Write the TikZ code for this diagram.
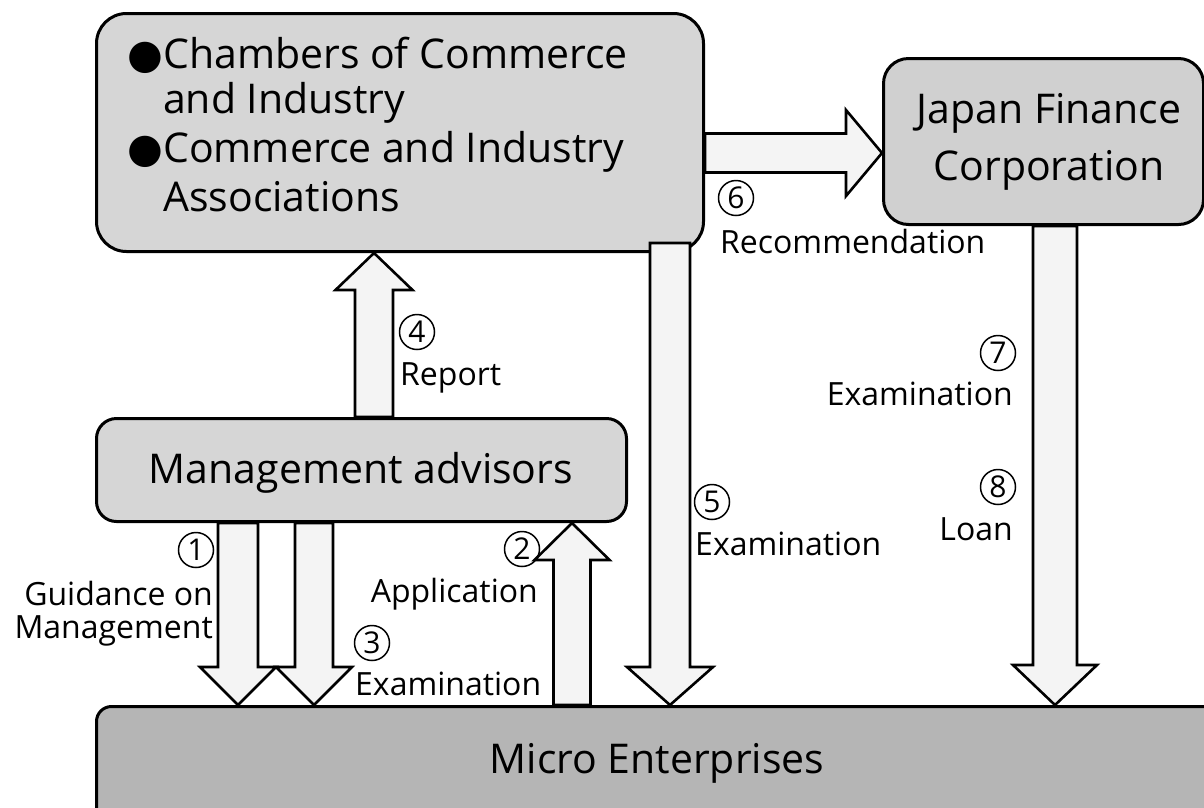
\documentclass[tikz,border=0pt]{standalone}
\usepackage{fontspec}
\setmainfont{Open Sans}
\newfontfamily\dv{DejaVu Sans}
\usetikzlibrary{calc}
\definecolor{boxfill}{HTML}{D6D6D6}
\definecolor{jfcfill}{HTML}{D0D0D0}
\definecolor{microfill}{HTML}{B5B5B5}
\definecolor{arrfill}{HTML}{F4F4F4}
\newcommand{\vblockdown}[5]{%
  \draw[blk] let \p1=(#1), \p2=(#2) in
    (\x2-#3pt,\y1) -- (\x2-#3pt,\y2+#5pt) -- (\x2-#4pt,\y2+#5pt) -- (\x2,\y2)
    -- (\x2+#4pt,\y2+#5pt) -- (\x2+#3pt,\y2+#5pt) -- (\x2+#3pt,\y1) -- cycle;}
\newcommand{\vblockup}[5]{%
  \draw[blk] let \p1=(#1), \p2=(#2) in
    (\x2-#3pt,\y1) -- (\x2-#3pt,\y2-#5pt) -- (\x2-#4pt,\y2-#5pt) -- (\x2,\y2)
    -- (\x2+#4pt,\y2-#5pt) -- (\x2+#3pt,\y2-#5pt) -- (\x2+#3pt,\y1) -- cycle;}
\newcommand{\hblockright}[5]{%
  \draw[blk] let \p1=(#1), \p2=(#2) in
    (\x1,\y2-#3pt) -- (\x2-#5pt,\y2-#3pt) -- (\x2-#5pt,\y2-#4pt) -- (\x2,\y2)
    -- (\x2-#5pt,\y2+#4pt) -- (\x2-#5pt,\y2+#3pt) -- (\x1,\y2+#3pt) -- cycle;}
\begin{document}
\begin{tikzpicture}[x=1pt,y=-1pt,
  box/.style={draw=black, line width=3pt, fill=boxfill, inner sep=0pt},
  blk/.style={draw=black, line width=2.6pt, fill=arrfill, line join=miter},
  big/.style={font=\fontsize{41}{48}\selectfont, inner sep=0pt},
  lbl/.style={font=\fontsize{32}{40}\selectfont, inner sep=0pt},
  num/.style={circle, draw=black, line width=1.5pt, minimum size=35pt, inner sep=0pt,
    font=\fontsize{30}{32}\selectfont}]
\useasboundingbox (0,0) rectangle (1204,807);
\fill[white] (0,0) rectangle (1204,807);
% boxes
\node[box, rounded corners=30pt, minimum width=607pt, minimum height=238pt, anchor=north west] (cci) at (95,12) {};
\node[box, fill=jfcfill, rounded corners=25pt, minimum width=320pt, minimum height=166pt, anchor=north west] (jfc) at (882,57) {};
\node[box, rounded corners=20pt, minimum width=530pt, minimum height=103pt, anchor=north west] (mgmt) at (95,417) {};
\node[box, fill=microfill, rounded corners=15pt, minimum width=1130pt, minimum height=130pt, anchor=north west] (micro) at (95,705) {};
% arrows
\coordinate (c5top) at ($(cci.south -| 670,0)+(0,-10)$);
\vblockdown{mgmt.south -| 238,0}{micro.north -| 238,0}{20}{38}{38}
\vblockdown{mgmt.south -| 314,0}{micro.north -| 314,0}{19}{38}{38}
\vblockup{micro.north -| 572,0}{mgmt.south -| 572,0}{18.5}{37.5}{37}
\vblockup{mgmt.north -| 374,0}{cci.south -| 374,0}{19}{38.5}{37}
\vblockdown{c5top}{micro.north -| 670,0}{20}{43}{38}
\vblockdown{jfc.south -| 1055,0}{micro.north -| 1055,0}{22}{42}{40}
\hblockright{cci.east |- 0,153}{jfc.west |- 0,153}{19.5}{43}{36}
% box texts
\node[big, anchor=base west] (t1) at (163,68) {\llap{\dv ●}Chambers of Commerce};
\node[big, anchor=base west] (t2) at (163,113) {and Industry};
\node[big, anchor=base west] (t3) at (163,162) {\llap{\dv ●}Commerce and Industry};
\node[big, anchor=base west] (t4) at (163,211) {Associations};
\node[big, anchor=base] (j1) at (1049,123) {Japan Finance};
\node[big, anchor=base] (j2) at (1049,180) {Corporation};
\node[big, anchor=base] (m1) at (361,483) {Management advisors};
\node[big, anchor=base] (me) at (657,773) {Micro Enterprises};
% labels
\node[num] (n1) at (196,550) {1};
\node[lbl, anchor=base east] (l1a) at (213,605) {Guidance on};
\node[lbl, anchor=base east] (l1b) at (213,638) {Management};
\node[num] (n2) at (522,549) {2};
\node[lbl, anchor=base east] (l2) at (538,602) {Application};
\node[num] (n3) at (372,643) {3};
\node[lbl, anchor=base west] (l3) at (355,695) {Examination};
\node[num] (n4) at (417,332) {4};
\node[lbl, anchor=base west] (l4) at (400,385) {Report};
\node[num] (n5) at (712,502) {5};
\node[lbl, anchor=base west] (l5) at (695,555) {Examination};
\node[num] (n6) at (736,198) {6};
\node[lbl, anchor=base west] (l6) at (720,253) {Recommendation};
\node[num] (n7) at (998,353) {7};
\node[lbl, anchor=base east] (l7) at (1013,405) {Examination};
\node[num] (n8) at (998,487) {8};
\node[lbl, anchor=base east] (l8) at (1013,540) {Loan};
\end{tikzpicture}
\end{document}
